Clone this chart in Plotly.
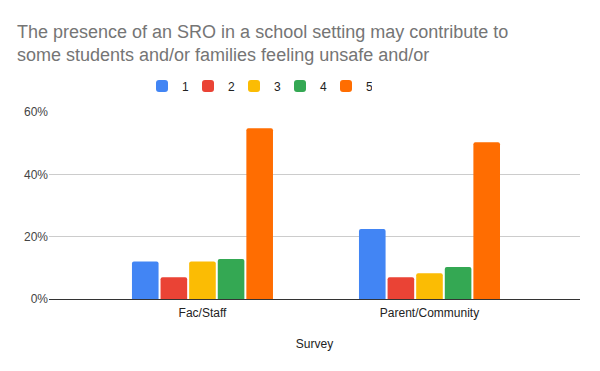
import plotly.graph_objects as go

categories = ["Fac/Staff", "Parent/Community"]
series_names = ["1", "2", "3", "4", "5"]
values_1 = [0.12, 0.225]
values_2 = [0.07, 0.07]
values_3 = [0.12, 0.083]
values_4 = [0.128, 0.103]
values_5 = [0.548, 0.503]
colors = ["#4285F4", "#EA4335", "#FBBC04", "#34A853", "#FF6D01"]

all_values = [values_1, values_2, values_3, values_4, values_5]

# the page body has an 8px margin, so the figure is drawn 8px smaller
W, H = 592, 363
L, R, T, B = 41, 20, 104, 72
PW, PH = W - L - R, H - T - B

fig = go.Figure()
for name, vals, col in zip(series_names, all_values, colors):
    fig.add_trace(go.Bar(x=categories, y=vals, name=name, marker_color=col,
                         marker_line_width=0))

fig.update_layout(
    width=W, height=H,
    margin=dict(l=L, r=R, t=T, b=B, autoexpand=False),
    paper_bgcolor="white", plot_bgcolor="white",
    font=dict(family="Arial, Liberation Sans, sans-serif", color="#222222", size=12),
    title=dict(
        text="The presence of an SRO in a school setting may contribute to<br>some students and/or families feeling unsafe and/or",
        x=9/W, xanchor="left", xref="container",
        y=1 - 30/H, yanchor="top", yref="container",
        font=dict(size=18, color="#757575"),
    ),
    barmode="group",
    bargap=0.37,
    bargroupgap=0.07,
    barcornerradius=2,
    showlegend=True,
    legend=dict(
        orientation="h", x=(134-L)/PW, xanchor="left",
        y=1 + (T-78)/PH, yanchor="middle",
        font=dict(size=12, color="#222222"),
        itemwidth=30, entrywidth=1, entrywidthmode="pixels",
        traceorder="normal",
    ),
    xaxis=dict(
        range=[-0.676, 1.663], automargin=False,
        showgrid=False, showline=False, ticks="",
        ticklabelstandoff=5,
        title=dict(text="Survey", font=dict(size=12, color="#222222"), standoff=20),
        tickfont=dict(size=12, color="#222222"),
    ),
    yaxis=dict(
        range=[0, 0.6], dtick=0.2, tickformat=".0%", automargin=False,
        showgrid=True, gridcolor="#CCCCCC", gridwidth=1,
        zeroline=True, zerolinecolor="#333333", zerolinewidth=1.3,
        showline=False, ticks="",
        tickfont=dict(size=12, color="#444444"),
    ),
)

fig.write_html("out.html")
